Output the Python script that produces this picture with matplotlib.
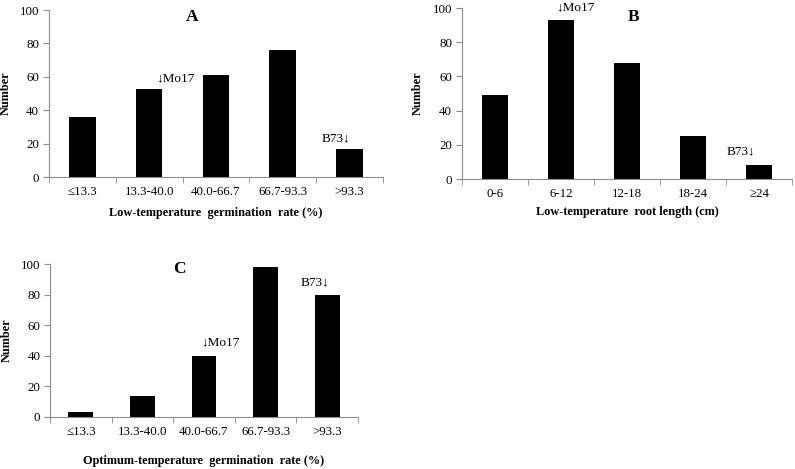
import numpy as np
import matplotlib
matplotlib.use('Agg')
import matplotlib.pyplot as plt

plt.rcParams['font.family'] = ['Liberation Serif', 'DejaVu Serif']

# data
rate_bins = ['\u226413.3', '13.3-40.0', '40.0-66.7', '66.7-93.3', '>93.3']
root_bins = ['0-6', '6-12', '12-18', '18-24', '\u226524']
low_germ = [36, 53, 61, 76, 17]
low_root = [49, 93, 68, 25, 8]
opt_germ = [3, 14, 40, 98, 80]

xlabels = ['Low-temperature  germination  rate (%)',
           'Low-temperature  root length (cm)',
           'Optimum-temperature  germination  rate (%)']
titles = ['A', 'B', 'C']
# (x, y) in data units for the letter and the two marker notes
title_pos = [(1.64, 96), (2.1, 95), (1.6, 97)]
mo17_pos = [(1.39, 59), (1.22, 100.5), (2.27, 49)]
b73_pos = [(3.79, 23), (3.72, 16), (3.8, 88)]

fig = plt.figure(figsize=(7.95, 4.69), dpi=100)
axes_pos = [[0.0616, 0.6226, 0.420, 0.356],
            [0.5808, 0.6183, 0.4155, 0.3646],
            [0.0629, 0.1109, 0.3874, 0.3262]]
xlabel_pads = [6.5, 4.3, 12.2]
panels = [(low_germ, rate_bins), (low_root, root_bins), (opt_germ, rate_bins)]

for i, (vals, cats) in enumerate(panels):
    ax = fig.add_axes(axes_pos[i])
    x = np.arange(len(cats))
    ax.bar(x, vals, width=0.4, color='black')
    ax.set_xlim(-0.5, len(cats) - 0.5)
    ax.set_ylim(0, 100)
    ax.set_yticks(range(0, 101, 20))
    ax.set_xticks(x)
    ax.set_xticklabels(cats)
    ax.set_xticks(np.arange(-0.5, len(cats), 1), minor=True)
    ax.tick_params(axis='x', which='major', length=0, pad=6.5, labelsize=9.3)
    ax.tick_params(axis='x', which='minor', length=4, color='#8c8c8c', direction='out')
    ax.tick_params(axis='y', length=4, color='#8c8c8c', direction='out', labelsize=9.3, pad=3)
    for s in ['top', 'right']:
        ax.spines[s].set_visible(False)
    for s in ['left', 'bottom']:
        ax.spines[s].set_color('#8c8c8c')
    ax.set_xlabel(xlabels[i], fontweight='bold', fontsize=8.8, labelpad=xlabel_pads[i])
    ax.set_ylabel('Number', fontweight='bold', fontsize=8.8, labelpad=6)
    ax.text(*title_pos[i], titles[i], fontweight='bold', fontsize=12.5, ha='center', va='center')
    ax.text(*mo17_pos[i], '\u2193Mo17', fontsize=9.5, ha='center', va='center')
    ax.text(*b73_pos[i], 'B73\u2193', fontsize=9.5, ha='center', va='center')

fig.savefig('out.png', dpi=100)
